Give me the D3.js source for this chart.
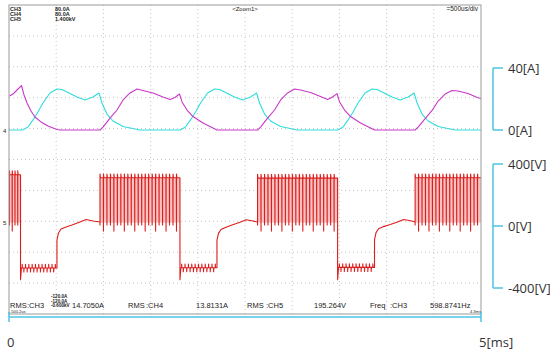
<!DOCTYPE html>
<html>
<head>
<meta charset="utf-8">
<script src="https://cdn.jsdelivr.net/npm/d3@7"></script>
<style>
  body { margin: 0; background: #fff; }
  svg { display: block; }
  .scope { font-family: "Liberation Sans", Arial, sans-serif; fill: #222; }
  .axisLabel { font-family: "Open Sans", "Noto Sans", sans-serif; font-size: 13px; fill: #333; }
  .grid { stroke: #c4c4c4; stroke-width: 1px; stroke-dasharray: 1 3; }
  .trace { fill: none; stroke-width: 1.1px; stroke-linejoin: round; }
  .bracket { fill: none; stroke: #4bc3e3; stroke-width: 1.5px; }
</style>
</head>
<body>
<svg id="chart" width="550" height="357"></svg>
<script>
  // time axis in ms, 10 div x 500us
  const timeDomain = [0, 5];
  const timeTicks = [{t: 0, label: '0'}, {t: 5, label: '5[ms]'}];

  // CH3 phase current (magenta) [ms, A]
  const ch3Current = [
    [0.005, 21.9], [0.042, 23.2], [0.085, 25.8], [0.132, 28.7], [0.159, 22.6], [0.191, 17.4],
    [0.233, 12.3], [0.275, 8.4], [0.339, 5.2], [0.413, 2.6], [0.508, 0.3], [0.540, 0],
    [0.964, 0], [0.996, 1.9], [1.070, 7.7], [1.144, 12.9], [1.208, 19.4], [1.282, 23.9],
    [1.356, 26.5], [1.419, 25.5], [1.525, 23.9], [1.631, 21.3], [1.706, 19.7], [1.758, 21.0],
    [1.806, 23.2], [1.833, 18.1], [1.886, 12.9], [1.949, 8.7], [2.055, 4.5], [2.203, 0],
    [2.633, 0], [2.665, 1.9], [2.739, 7.7], [2.813, 12.9], [2.877, 19.4], [2.951, 23.9],
    [3.025, 26.5], [3.088, 25.8], [3.194, 24.2], [3.300, 21.6], [3.375, 19.7], [3.427, 21.3],
    [3.475, 23.5], [3.502, 18.1], [3.555, 12.9], [3.618, 8.7], [3.724, 4.5], [3.872, 0],
    [4.302, 0], [4.334, 1.9], [4.408, 7.4], [4.482, 12.6], [4.546, 18.7], [4.620, 23.2],
    [4.694, 25.5], [4.757, 25.2], [4.863, 23.5], [4.960, 21.0], [5.0, 20.3]
  ];

  // CH4 phase current (cyan) [ms, A]
  const ch4Current = [
    [0, 0], [0.143, 0], [0.201, 1.9], [0.254, 6.5], [0.307, 11.6], [0.360, 17.4], [0.434, 23.9],
    [0.508, 26.5], [0.561, 26.1], [0.614, 24.5], [0.720, 21.3], [0.805, 19.4], [0.890, 21.3],
    [0.953, 23.9], [0.985, 17.4], [1.038, 10.3], [1.102, 5.8], [1.208, 2.3], [1.388, 0],
    [1.812, 0], [1.870, 1.9], [1.923, 6.5], [1.976, 11.6], [2.029, 17.4], [2.103, 23.9],
    [2.177, 26.5], [2.230, 26.1], [2.283, 24.5], [2.389, 21.3], [2.474, 19.4], [2.559, 21.3],
    [2.622, 23.9], [2.654, 17.4], [2.707, 10.3], [2.771, 5.8], [2.877, 2.3], [3.057, 0],
    [3.481, 0], [3.539, 1.9], [3.592, 6.5], [3.645, 11.6], [3.698, 17.4], [3.772, 23.9],
    [3.846, 26.5], [3.899, 26.1], [3.952, 24.5], [4.058, 21.3], [4.143, 19.4], [4.228, 21.3],
    [4.291, 23.9], [4.323, 17.4], [4.376, 10.3], [4.440, 5.8], [4.546, 2.3], [4.726, 0], [5.0, 0]
  ];

  // CH5 phase voltage (red): PWM bursts [ms], pulse count, high level [V]
  const burstStart = [0.005, 0.964, 2.633, 4.302];
  const burstEnd = [0.122, 1.811, 3.481, 5.0];
  const burstPulses = [4, 23, 23, 19];
  const burstHigh = [310, 290, 288, 290];
  // negative (demagnetising) intervals
  const lowStart = [0.122, 1.811, 3.481];
  const lowEnd = [0.508, 2.203, 3.872];
  const lowLevel = [-294, -292, -290];
  const lowSpikes = [22, 22, 22];
  // near-zero interval after each low, [ms, V]
  const plateaus = [
    [[0.508, -113], [0.524, -67], [0.551, -41], [0.604, -28], [0.667, -16], [0.752, 4], [0.816, 20], [0.890, 10], [0.964, 4]],
    [[2.203, -113], [2.219, -70], [2.246, -45], [2.299, -30], [2.362, -16], [2.447, 2], [2.511, 18], [2.585, 10], [2.633, 4]],
    [[3.872, -110], [3.888, -65], [3.915, -40], [3.968, -26], [4.031, -14], [4.116, 4], [4.180, 20], [4.254, 12], [4.302, 4]]
  ];

  const scopeTop = ['CH3', 'CH4', 'CH5'];
  const scopeTopVal = ['80.0A', '80.0A', '1.400kV'];
  const scopeBottomVal = ['-120.0A', '-120.0A', '-0.600kV'];
  const chColor = ['#c837c8', '#2fdcdc', '#dd1c1c'];
  const measure = [
    {x: 10, s: 'RMS'}, {x: 27, s: ':CH3'}, {x: 72, s: '14.7050A'},
    {x: 128, s: 'RMS'}, {x: 146, s: ':CH4'}, {x: 196, s: '13.8131A'},
    {x: 247, s: 'RMS'}, {x: 266, s: ':CH5'}, {x: 314, s: '195.264V'},
    {x: 370, s: 'Freq'}, {x: 390, s: ':CH3'}, {x: 430, s: '598.8741Hz'}
  ];

  const currentTicks = [{v: 40, label: '40[A]'}, {v: 0, label: '0[A]'}];
  const voltageTicks = [{v: 400, label: '400[V]'}, {v: 0, label: '0[V]'}, {v: -400, label: '-400[V]'}];

  const frame = {x0: 9, x1: 481, y0: 5, y1: 314};
  const svg = d3.select('#chart');

  const x = d3.scaleLinear().domain(timeDomain).range([frame.x0, frame.x1]);
  const yI = d3.scaleLinear().domain([0, 40]).range([130, 68]);
  const yV = d3.scaleLinear().domain([0, 400]).range([222.6, 160.8]);
  const yVaxis = d3.scaleLinear().domain([-400, 400]).range([288, 164]);

  // grid 10 x 10
  const gx = d3.range(1, 10).map(i => frame.x0 + (frame.x1 - frame.x0) * i / 10);
  const gy = d3.range(1, 10).map(i => frame.y0 + (frame.y1 - frame.y0) * i / 10);
  svg.append('g').selectAll('line').data(gx).join('line')
    .attr('class', 'grid').attr('x1', d => d).attr('x2', d => d)
    .attr('y1', frame.y0).attr('y2', frame.y1);
  svg.append('g').selectAll('line').data(gy).join('line')
    .attr('class', 'grid').attr('y1', d => d).attr('y2', d => d)
    .attr('x1', frame.x0).attr('x2', frame.x1);

  // voltage trace
  const vPts = [];
  burstStart.forEach((t0, k) => {
    const t1 = burstEnd[k], n = burstPulses[k], hi = burstHigh[k];
    const step = (t1 - t0) / n;
    vPts.push([t0, 0]);
    for (let i = 0; i < n; i++) {
      const tp = t0 + step * i;
      vPts.push([tp, i % 3 === 1 ? -55 : -15], [tp, hi + 25], [tp + step * 0.12, hi], [tp + step * 0.95, hi]);
    }
    vPts.push([t1, hi]);
    if (k < lowStart.length) {
      const l0 = lowStart[k], l1 = lowEnd[k], lv = lowLevel[k], ns = lowSpikes[k];
      vPts.push([l0, -370], [l0 + 0.01, lv]);
      const ls = (l1 - l0) / ns;
      for (let j = 1; j < ns; j++) {
        const tj = l0 + ls * j;
        vPts.push([tj, lv], [tj, lv + (j % 2 ? 24 : -26)], [tj + 0.003, lv]);
      }
      vPts.push([l1, lv]);
      plateaus[k].forEach(p => vPts.push(p));
    }
  });

  svg.append('g').selectAll('rect').data(burstStart).join('rect')
    .attr('x', d => x(d)).attr('width', (d, k) => x(burstEnd[k]) - x(d))
    .attr('y', (d, k) => yV(burstHigh[k])).attr('height', (d, k) => yV(0) - yV(burstHigh[k]))
    .attr('fill', '#f6c2c2');

  svg.append('path').attr('class', 'trace').attr('stroke', chColor[2]).attr('stroke-width', 0.6)
    .attr('d', d3.line().x(d => x(d[0])).y(d => yV(d[1]))(vPts));

  const iLine = d3.line().x(d => x(d[0])).y(d => yI(d[1]));
  svg.append('path').attr('class', 'trace').attr('stroke', chColor[1]).attr('d', iLine(ch4Current));
  svg.append('path').attr('class', 'trace').attr('stroke', chColor[0]).attr('d', iLine(ch3Current));

  // zero markers at the left edge
  svg.append('text').attr('class', 'scope').attr('x', 3).attr('y', yI(0) + 2.5)
    .attr('font-size', 6).attr('fill', chColor[1]).text('4');
  svg.append('text').attr('class', 'scope').attr('x', 3).attr('y', yV(0) + 2.5)
    .attr('font-size', 6).attr('fill', chColor[2]).text('5');

  // frame
  svg.append('rect').attr('x', frame.x0).attr('y', frame.y0)
    .attr('width', frame.x1 - frame.x0).attr('height', frame.y1 - frame.y0)
    .attr('fill', 'none').attr('stroke', '#9a9a9a').attr('stroke-width', 1);

  // scope texts
  scopeTop.forEach((s, i) => {
    svg.append('text').attr('class', 'scope').attr('x', 10).attr('y', 11 + i * 5.2)
      .attr('font-size', 5.5).attr('font-weight', 'bold').attr('fill', chColor[i]).text(s);
    svg.append('text').attr('class', 'scope').attr('x', 55).attr('y', 11 + i * 5.2)
      .attr('font-size', 5.5).attr('font-weight', 'bold').attr('fill', chColor[i]).text(scopeTopVal[i]);
    svg.append('text').attr('class', 'scope').attr('x', 51).attr('y', 298 + i * 4.6)
      .attr('font-size', 4.6).attr('font-weight', 'bold').attr('fill', chColor[i]).text(scopeBottomVal[i]);
  });
  svg.append('text').attr('class', 'scope').attr('x', 245).attr('y', 11)
    .attr('font-size', 6).attr('text-anchor', 'middle').text('<Zoom1>');
  svg.append('text').attr('class', 'scope').attr('x', 478).attr('y', 11)
    .attr('font-size', 6.5).attr('text-anchor', 'end').text('=500us/div');
  svg.selectAll('text.meas').data(measure).join('text')
    .attr('class', 'scope meas').attr('x', d => d.x).attr('y', 308)
    .attr('font-size', 7.5).text(d => d.s);
  svg.append('text').attr('class', 'scope').attr('x', 10).attr('y', 313)
    .attr('font-size', 4).text('-500.2us');
  svg.append('text').attr('class', 'scope').attr('x', 470).attr('y', 313)
    .attr('font-size', 4).text('4.3ms');

  // right brackets
  const bx = 493, tl = 10;
  function bracket(scale, ticks) {
    const ext = d3.extent(ticks, d => scale(d.v));
    svg.append('line').attr('class', 'bracket').attr('x1', bx).attr('x2', bx)
      .attr('y1', ext[0]).attr('y2', ext[1]);
    svg.selectAll(null).data(ticks).join('line').attr('class', 'bracket')
      .attr('x1', bx).attr('x2', bx + tl).attr('y1', d => scale(d.v)).attr('y2', d => scale(d.v));
    svg.selectAll(null).data(ticks).join('text').attr('class', 'axisLabel')
      .attr('x', bx + 15).attr('y', d => scale(d.v)).attr('dy', '0.36em').text(d => d.label);
  }
  bracket(yI, currentTicks);
  bracket(yVaxis, voltageTicks);

  // time bar
  const ty = 317;
  svg.append('line').attr('class', 'bracket').attr('x1', x(0)).attr('x2', x(5)).attr('y1', ty).attr('y2', ty);
  svg.selectAll(null).data(timeTicks).join('line').attr('class', 'bracket')
    .attr('x1', d => x(d.t)).attr('x2', d => x(d.t)).attr('y1', ty - 5).attr('y2', ty + 5);
  svg.selectAll(null).data(timeTicks).join('text').attr('class', 'axisLabel')
    .attr('x', d => x(d.t) - 2).attr('y', 342).attr('dy', '0.36em').text(d => d.label);
</script>
</body>
</html>
